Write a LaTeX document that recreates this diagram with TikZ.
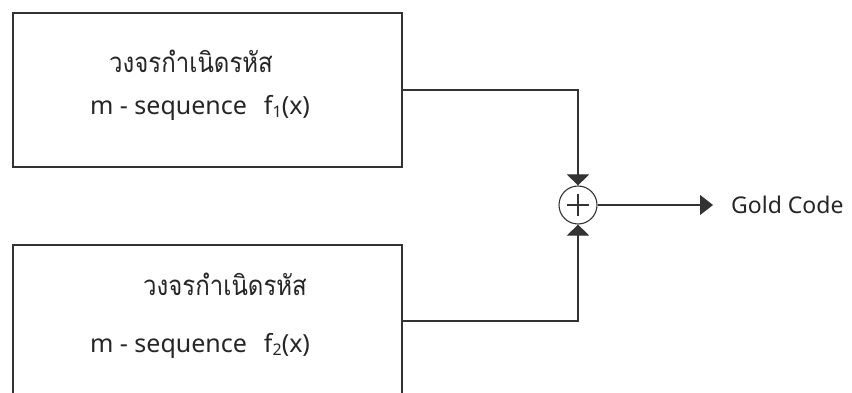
\documentclass[tikz,border=0pt]{standalone}
\usepackage{fontspec}
\setmainfont{Noto Sans}
\newfontfamily\thaifont[Script=Thai]{Loma}
\usetikzlibrary{arrows.meta}
\definecolor{ink}{HTML}{333333}
\definecolor{txt}{HTML}{262626}
\tikzset{
  blockbox/.style={draw=ink, line width=1.1pt, minimum width=389pt, inner sep=0pt},
  wire/.style={draw=ink, line width=1.1pt},
  lbl/.style={anchor=base, inner sep=0pt, text=txt, font=\fontsize{25}{28}\selectfont},
  gclbl/.style={anchor=west, inner sep=0pt, text=txt, font=\fontsize{23}{26}\selectfont},
  thai/.style={anchor=base, inner sep=0pt, text=txt, font=\thaifont\fontsize{24}{28}\selectfont},
  tip/.style={-{Triangle[width=22pt,length=11pt]}}
}
\newcommand{\fsub}[1]{f{\fontsize{16}{17}\selectfont\raisebox{-3pt}{#1}}(x)}
\newcommand{\thaitall}[1]{\scalebox{1}[1.15]{#1}}
\begin{document}
\begin{tikzpicture}[x=1pt,y=-1pt]
\path[use as bounding box, clip] (0,0) rectangle (852,393);
\fill[white] (0,0) rectangle (852,393);
% boxes
\node[blockbox, minimum height=154pt] (top) at (207.5,90) {};
\node[blockbox, minimum height=152pt] (bot) at (207.5,321) {};
% texts
\node[thai] (t1) at (191,73) {\thaitall{วงจรกำเนิดรหัส}};
\node[lbl] (m1) at (200,115) {m - sequence\hspace{17pt}\fsub{1}};
\node[thai] (t2) at (225,295) {\thaitall{วงจรกำเนิดรหัส}};
\node[lbl] (m2) at (200,352) {m - sequence\hspace{17pt}\fsub{2}};
% summing junction
\node[circle, draw=ink, line width=1.1pt, minimum size=38pt, inner sep=0pt] (sum) at (578,205) {};
\draw[ink, line width=2pt] ([xshift=-11pt]sum.center) -- ([xshift=11pt]sum.center);
\draw[ink, line width=2pt] ([yshift=-11pt]sum.center) -- ([yshift=11pt]sum.center);
% connectors
\draw[wire, tip] (top.east) -| (sum.north);
\draw[wire, tip] (bot.east) -| (sum.south);
\coordinate (out) at (713,205);
\draw[wire, -{Triangle[width=20pt,length=13pt]}] (sum.east) -- (out);
\node[gclbl] (gc) at (731,205) {Gold Code};
\end{tikzpicture}
\end{document}
